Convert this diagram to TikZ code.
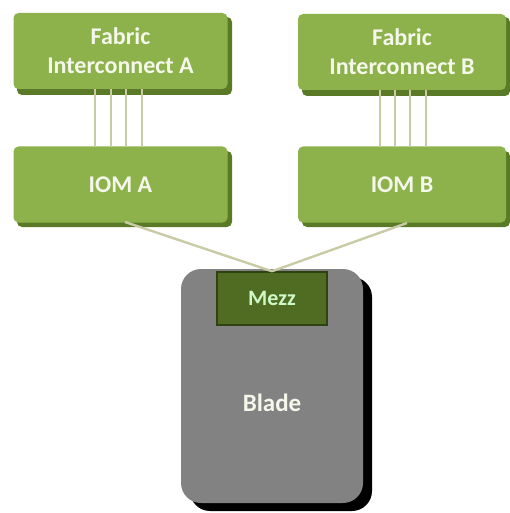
\documentclass[tikz,border=0pt]{standalone}
\usepackage{fontspec}
\setmainfont{Carlito}
\definecolor{boxgreen}{HTML}{8DB24C}
\definecolor{shadowgreen}{HTML}{5A7A28}
\definecolor{linkcol}{HTML}{C9CBA6}
\definecolor{mezzgreen}{HTML}{4F6C22}
\definecolor{mezzborder}{HTML}{2E4212}
\definecolor{bladegray}{HTML}{828282}
\definecolor{txt}{HTML}{F4F7EA}
\begin{document}
\begin{tikzpicture}[x=1pt,y=-1pt,
  gbox/.style={fill=boxgreen, rounded corners=5pt, inner sep=0pt,
    font=\fontsize{24}{29}\selectfont\bfseries, text=txt, align=center,
    minimum width=214pt, minimum height=76pt},
  link/.style={draw=linkcol, line width=2.2pt},
  uplink/.style={draw=linkcol, line width=2.4pt}]
\useasboundingbox (0,0) rectangle (510,513);
% shadows
\fill[shadowgreen, rounded corners=5pt] (17,17) rectangle (232,95);
\fill[shadowgreen, rounded corners=5pt] (302,17) rectangle (510,96);
\fill[shadowgreen, rounded corners=5pt] (17,151) rectangle (232,227);
\fill[shadowgreen, rounded corners=5pt] (302,151) rectangle (510,227);
\fill[black, rounded corners=20pt] (190,277) rectangle (372,511);
% boxes
\node[gbox] (fiA) at (120.5,51) {Fabric\\Interconnect A};
\node[gbox, minimum width=208pt] (fiB) at (402,52) {Fabric\\Interconnect B};
\node[gbox] (iomA) at (120.5,184.5) {IOM A};
\node[gbox, minimum width=208pt] (iomB) at (402,184.5) {IOM B};
\node[fill=bladegray, rounded corners=20pt, minimum width=182pt, minimum height=234pt,
      inner sep=0pt] (blade) at (272,386) {};
\node[font=\fontsize{25}{28}\selectfont\bfseries, text=txt] (bladetxt) at (272,403) {Blade};
\node[fill=mezzgreen, draw=mezzborder, line width=1.5pt, minimum width=110pt,
      minimum height=53pt, inner sep=0pt, font=\fontsize{22}{24}\selectfont\bfseries,
      text=txt!85!green] (mezz) at (272,298.5) {Mezz};
% links FI -> IOM
\foreach \x in {95,111,126,142}{
  \draw[link] (\x,89) -- (\x,147);
}
\foreach \x in {380,395,410,426}{
  \draw[link] (\x,90) -- (\x,147);
}
% uplinks IOM -> Mezz
\coordinate (mtop) at (mezz.north);
\draw[uplink] (125,222) -- (mtop);
\draw[uplink] (407,223) -- (mtop);
\end{tikzpicture}
\end{document}
